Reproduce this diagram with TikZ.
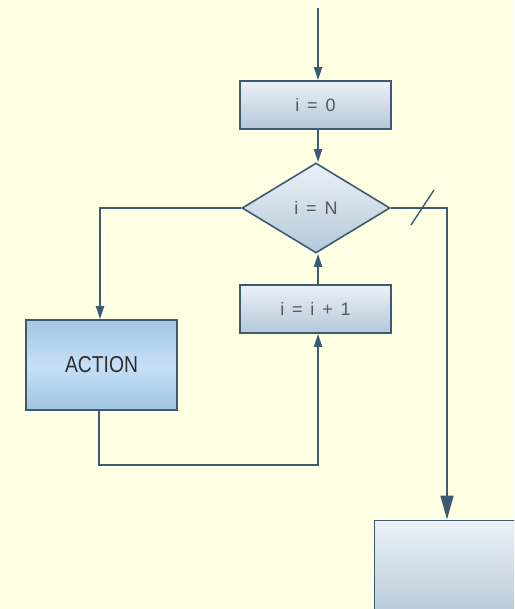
\documentclass[tikz,border=0pt]{standalone}
\usepackage{fontspec}
\setmainfont{Liberation Sans}
\newfontfamily\narrowsans[FakeStretch=0.84]{Liberation Sans}
\usetikzlibrary{shapes.geometric,arrows.meta}
\definecolor{paper}{RGB}{255,255,228}
\definecolor{edge}{RGB}{62,90,115}
\definecolor{boxtop}{RGB}{236,241,248}
\definecolor{boxbot}{RGB}{180,200,216}
\definecolor{acttop}{RGB}{164,199,227}
\definecolor{actmid}{RGB}{198,224,246}
\definecolor{actbot}{RGB}{162,197,225}
\definecolor{labelgray}{RGB}{88,88,88}
\newcommand{\wgap}{\hspace{7.8pt}}
\tikzset{
  wire/.style={draw=edge, line width=1.8pt},
  tip/.style={-{Triangle[length=13pt,width=8pt]}},
  bigtip/.style={-{Triangle[length=24pt,width=13pt]}},
  procbox/.style={draw=edge, line width=1.6pt, rectangle, minimum width=151pt,
    minimum height=48pt, top color=boxtop, bottom color=boxbot,
    text=labelgray, font=\fontsize{18}{18}\selectfont, inner sep=0pt},
  actbox/.style={draw=edge, line width=1.6pt, rectangle, minimum width=151pt,
    minimum height=90pt, top color=acttop, bottom color=actbot, middle color=actmid,
    text=black!82, font=\narrowsans\fontsize{23}{23}\selectfont, inner sep=0pt},
  testbox/.style={draw=edge, line width=1.6pt, diamond, aspect=1.64,
    minimum width=148pt, minimum height=90pt, top color=boxtop, bottom color=boxbot,
    text=labelgray, font=\fontsize{18}{18}\selectfont, inner sep=0pt},
  endbox/.style={draw=edge, line width=1.6pt, rectangle, top color=boxtop,
    bottom color=boxbot, minimum width=150pt, minimum height=100pt, anchor=north west},
}
\begin{document}
\begin{tikzpicture}[x=1pt,y=-1pt]
  \useasboundingbox (0,0) rectangle (514,609);
  \clip (0,0) rectangle (514,609);
  \fill[paper] (0,0) rectangle (514,609);

  % boxes
  \node[procbox] (init) at (315.5,105) {i\wgap=\wgap0};
  \node[testbox] (test) at (316,208) {i\wgap=\wgap N};
  \node[procbox] (incr) at (315.5,309) {i\wgap=\wgap i\wgap+\wgap1};
  \node[actbox] (act) at (101.5,365) {ACTION};
  \node[endbox] (next) at (373.5,519.5) {};

  % entry
  \coordinate (entry) at (318,8);
  \draw[wire,tip] (entry) -- (entry |- init.north);
  \draw[wire,tip] (init.south -| entry) -- (entry |- test.north);

  % loop body and increment
  \coordinate (lc) at (100,208);
  \draw[wire,tip] (test.west) -- (lc) -- (lc |- act.north);
  \coordinate (bl) at (99,465);
  \coordinate (br) at (318,465);
  \draw[wire,tip] (act.south -| bl) -- (bl) -- (br) -- (br |- incr.south);
  \draw[wire,tip] (incr.north -| br) -- (br |- test.south);

  % exit
  \coordinate (rc) at (447,208);
  \draw[wire,bigtip] (test.east) -- (rc) -- (rc |- next.north);
  \coordinate (s1) at (411,225);
  \coordinate (s2) at (434,190);
  \draw[edge, line width=1.4pt] (s1) -- (s2);
\end{tikzpicture}
\end{document}
